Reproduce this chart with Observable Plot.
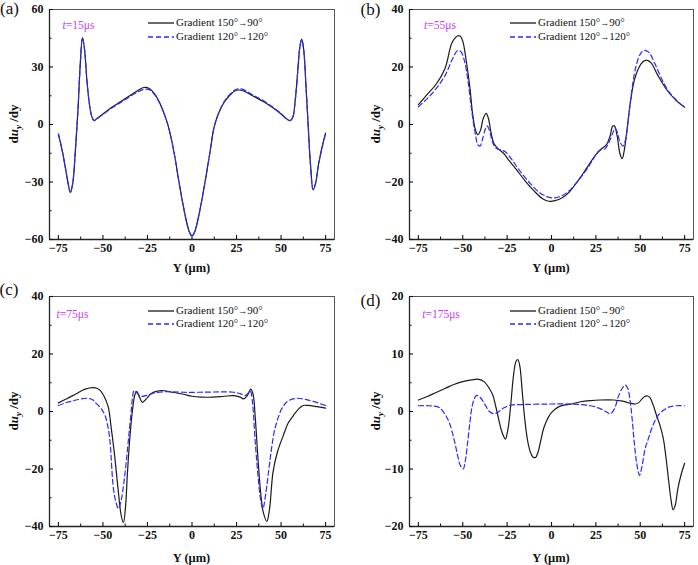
<!DOCTYPE html>
<html><head><meta charset="utf-8">
<script src="https://cdn.jsdelivr.net/npm/d3@7"></script>
<script src="https://cdn.jsdelivr.net/npm/@observablehq/plot@0.6"></script>
<style>
body{margin:0;background:#fff;}
#root{position:relative;width:698px;height:565px;font-family:"Liberation Serif","Times New Roman",serif;color:#111;overflow:hidden;}
.panel{position:absolute;}
.panel svg{display:block;}
.ov{position:absolute;white-space:nowrap;line-height:1;}
.c{transform:translate(-50%,-50%);}
.arr{font-size:0.82em;}
</style></head><body><div id="root"></div>
<script>
// ---------- shared ticks ----------
const xTicks = [-75, -50, -25, 0, 25, 50, 75];
const xMinor = [-62.5, -37.5, -12.5, 12.5, 37.5, 62.5];
const legendLabels = ["Gradient 150°→90°", "Gradient 120°→120°"];

// ---------- panel (a) t=15us ----------
const aYTicks = [-60, -30, 0, 30, 60];
const aYMinor = [-45, -15, 15, 45];
const aX1 = [-75,-73,-71,-69.5,-68.3,-67,-65.5,-64,-62.7,-61.5,-60.3,-59,-57.5,-56.2,-55,-53.5,-50,-45,-40,-35,-30,-27,-24,-21,-18,-15,-13,-10,-7.5,-5,-3,-1.5,0,1.5,3,5,7.5,10,12.5,15,18,21,24,26,29,32,35,40,45,50,53,55,56.5,58,59.3,60.5,61.6,62.7,64,65.3,66.6,68,69.3,71,73,75];
const aY1 = [-5,-13,-23,-31,-35.4,-31,-14,8,32,45.4,39,23,10,4,2,3,5.5,9,12,15,18,19.3,18.8,16,11,4,-2,-15,-29,-42,-51,-56,-58,-56,-51,-42,-29,-15,-1,6,11.5,15,17.5,18,17.5,16,14.5,12,9,5.5,3,2,3.5,13,27,40,44.5,39,20,-2,-22,-34,-31,-21,-12,-4.5];
const aX2 = aX1;
const aY2 = [-5,-13,-23,-31,-35.4,-31,-14,8,32,45.2,39,23,10,4,2,3,5.3,8.6,11.5,14.5,17.2,18.3,18.2,15.6,11,4,-2,-15,-29,-42,-51,-56,-58.3,-56,-51,-42,-29,-15,-1,6,11.8,15.5,18,18.6,18.2,16.6,15,12.5,9.3,5.7,3,2,3.5,13,27,40,44.3,39,20,-2,-22,-34,-31,-21,-12,-4.5];

// ---------- panel (b) t=55us ----------
const bYTicks = [-40, -20, 0, 20, 40];
const bYMinor = [-30, -10, 10, 30];
const bX1 = [-75,-70,-65,-60,-56,-53,-51.5,-50,-48,-46,-44.5,-43,-41.5,-40,-38.5,-36.8,-35.5,-34,-32.5,-30,-27,-24,-20,-15,-10,-5,-1.5,2,6,10,15,20,25,28,31,33,34.5,35.5,37,38.5,39.8,41,42.5,44.5,46.5,49,51.5,53.5,56,60,65,70,75];
const bY1 = [6.9,10.5,14,19.5,28.5,30.8,30.8,29,22,13,4,-1.5,-3.6,-2,2,3.9,2,-3,-6.5,-8.5,-10,-12.5,-15.5,-19.5,-23,-25.8,-26.7,-26.5,-25.5,-23.5,-19.5,-15,-10.5,-8.5,-7,-4,-0.5,-0.5,-4,-10,-11.9,-9,-2,8,15,19.5,21.8,22.4,21.5,17,12,8.5,6];
const bX2 = [-75,-70,-65,-60,-56,-53,-51,-49,-47,-45,-43,-41.5,-40.3,-39,-37.5,-36.3,-35,-33.5,-31.5,-28.5,-26,-22,-18,-12,-6,0,5,10,15,20,24,27,30,32.5,34.5,35.8,37,38.5,40.3,41.8,43.5,45.5,47.5,50,52.3,55,58,62,66,70,75];
const bY2 = [6.2,9,12.5,17,22.5,25.7,25.3,22,15,5,-3,-7,-7.5,-5.5,-2,-0.5,-2,-5.5,-8.2,-8.8,-9.5,-12.5,-16,-20.5,-24,-25.5,-25,-23,-19.5,-15.5,-11.5,-9,-8.5,-6,-3,-1.3,-2.5,-6,-7.5,-5,3,13,20,24.5,25.8,25,21.5,16,11.5,8.7,6];

// ---------- panel (c) t=75us ----------
const cYTicks = [-40, -20, 0, 20, 40];
const cYMinor = [-30, -10, 10, 30];
const cX1 = [-75,-70,-65,-60,-55,-52,-49.3,-47,-45.5,-43.5,-41.5,-39.8,-38.5,-37.3,-36.3,-35,-33.5,-32,-31,-29.5,-27.8,-25.5,-23,-20,-16.7,-12,-5,0,5,12,18,23.4,27,29,31,33,34.3,35.5,37,38.5,40,42,43.5,45.5,48,51.3,54,56.9,60,62.5,65,70,75];
const cY1 = [3,4.5,6.2,7.8,8.3,7.6,5.2,1.5,-5,-15,-27,-36,-38.7,-33,-22,-10,0,6,7,5,3.2,4.5,6.2,7,7.3,6.8,6,5.3,5,5,5.3,5.5,5,4.4,5.5,7.8,6,-2,-16,-28,-35,-38.2,-34,-21,-14,-8.3,-4,-1.4,1,2.1,2.1,1.7,1.2];
const cX2 = [-75,-70,-65,-59.5,-56,-54.4,-51,-48.8,-47,-46,-44.1,-42.5,-41.3,-39.8,-38.2,-36.5,-35.3,-34,-33.4,-32.5,-31,-28.7,-25,-21.3,-13.9,-5,4.8,15,23.4,28,30,31.5,32.7,33.8,35.5,37.3,38.6,39.8,41.3,43.9,46,47.6,50,52.3,55,58.8,63,68,75];
const cY2 = [2.1,3.2,4,4.6,4.2,3.2,1,-1.4,-6,-10.6,-26.9,-32,-33.8,-31,-24.5,-15,-7.2,1,5,7.3,6.5,5.3,5.7,6.5,6.9,6.7,6.7,6.8,6.7,6,5.6,6.4,7.2,4,-10.6,-24,-31,-33.8,-29,-16.4,-7.5,-3.7,0.5,2.7,4,4.6,4.3,3.5,2.1];

// ---------- panel (d) t=175us ----------
const dYTicks = [-20, -10, 0, 10, 20];
const dYMinor = [-15, -5, 5, 15];
const dX1 = [-75,-70,-65,-60,-55,-50,-45,-41,-38,-35,-33,-31.5,-30,-28.5,-27,-26,-24.5,-23,-21.5,-20,-18.9,-17.8,-16.5,-15,-13.5,-12,-10.5,-9,-7.5,-6,-4.5,-3,-1.6,0,2,4,7,11,16.4,22,27.5,35,40,42.5,45,47.1,49,51,52.5,54.2,55.5,57.2,59.2,61.2,63,64.5,66.1,67.4,68.5,69.7,71.2,73,75];
const dY1 = [2,2.6,3.3,4,4.7,5.2,5.5,5.6,5.2,4,2.8,1,-1,-3,-4.3,-4.8,-3,1,6,8.7,9,7.8,3.5,-1.5,-5,-7,-7.9,-8,-7,-5,-3,-1.8,-0.9,-0.2,0.4,0.8,1.1,1.3,1.7,1.9,2,2,1.8,1.6,1.4,1.3,1.5,2.2,2.6,2.7,2.4,1.2,-0.7,-2.5,-4.7,-8,-12.3,-15.5,-17.1,-16.3,-13.4,-11,-9];
const dX2 = [-75,-69,-63.3,-60,-57.5,-55,-53,-51.6,-49.8,-48.5,-47.3,-46,-44.8,-43.4,-42.1,-40,-37.5,-35,-32.5,-30,-27,-23,-17,-2,10,16.4,22,27.5,31,33.2,35.5,37.9,39.8,41.6,43,44.4,45.5,46.6,48,49.6,51,52.7,54.5,56.4,58.5,60.8,63.5,66.4,70,75];
const dY2 = [1,1,0.7,-0.5,-2,-4.7,-7.5,-9.2,-10,-8.5,-5.5,-2,0.8,2.3,2.8,2.4,1.2,0,-0.4,-0.1,0.6,1.1,1.2,1.3,1.3,1.2,1,0.5,-0.1,-0.4,0.5,2.8,4,4.6,4,1.6,-1.5,-5.3,-9,-11.1,-9.5,-6.5,-4.8,-3,-1.5,-0.4,0.3,0.8,1,1];

const BLACK = "#1a1a1a", BLUE = "#2a2aff", MAGENTA = "#c23ef0";

const panels = [
  {lab:"(a)", t:"15", left:0, top:0, w:349, h:282, m:[9,15,43,49], yd:[-60,60], yt:aYTicks, ym:aYMinor,
   s1:[aX1,aY1], s2:[aX2,aY2], labPos:[9.5,8], tPos:[78.5,25.5], legX:148, legY:[23.3,36.5], ytX:15, xtY:268},
  {lab:"(b)", t:"55", left:349, top:0, w:349, h:282, m:[9,5,43,60], yd:[-40,40], yt:bYTicks, ym:bYMinor,
   s1:[bX1,bY1], s2:[bX2,bY2], labPos:[21.5,9], tPos:[91,25.5], legX:161, legY:[23.3,36.5], ytX:28, xtY:268},
  {lab:"(c)", t:"75", left:0, top:282, w:349, h:283, m:[14,15,39,49], yd:[-40,40], yt:cYTicks, ym:cYMinor,
   s1:[cX1,cY1], s2:[cX2,cY2], labPos:[9,7], tPos:[72.5,33], legX:148, legY:[28.5,41.7], ytX:15, xtY:276},
  {lab:"(d)", t:"175", left:349, top:282, w:349, h:283, m:[14,5,39,60], yd:[-20,20], yt:dYTicks, ym:dYMinor,
   s1:[dX1,dY1], s2:[dX2,dY2], labPos:[21.5,18], tPos:[92,33], legX:161, legY:[28.5,41.7], ytX:28, xtY:276}
];

const fmt = d => d < 0 ? "\u2212" + Math.abs(d) : String(d);
const root = document.getElementById("root");

function ov(parent, html, x, y, style, center = true) {
  const el = document.createElement("div");
  el.className = "ov" + (center ? " c" : "");
  el.innerHTML = html;
  el.style.left = x + "px";
  el.style.top = y + "px";
  Object.assign(el.style, style);
  parent.appendChild(el);
  return el;
}

for (const p of panels) {
  const div = document.createElement("div");
  div.className = "panel";
  div.style.left = p.left + "px";
  div.style.top = p.top + "px";
  div.style.width = p.w + "px";
  div.style.height = p.h + "px";
  root.appendChild(div);

  const [mt, mr, mb, ml] = p.m;
  const chart = Plot.plot({
    width: p.w, height: p.h,
    marginTop: mt, marginRight: mr, marginBottom: mb, marginLeft: ml,
    x: {domain: [-80, 80]},
    y: {domain: p.yd},
    style: {fontFamily: "'Liberation Serif', 'Times New Roman', serif", fontSize: "12px", fontWeight: "bold", color: "#111", background: "transparent", overflow: "visible"},
    marks: [
      Plot.frame({stroke: "#444", strokeWidth: 0.9}),
      Plot.ruleX([-80], {stroke: "#222", strokeWidth: 1.3}),
      Plot.ruleY([p.yd[0]], {stroke: "#222", strokeWidth: 1.3}),
      Plot.axisX({ticks: xTicks, tickSize: -4, text: null, label: null, strokeWidth: 1.1}),
      Plot.axisX({ticks: xMinor, tickSize: -2.5, text: null, label: null}),
      Plot.axisX({ticks: xTicks, tickSize: 0, tickPadding: 4, tickFormat: fmt, label: null}),
      Plot.axisY({ticks: p.yt, tickSize: -4, text: null, label: null, strokeWidth: 1.1}),
      Plot.axisY({ticks: p.ym, tickSize: -2.5, text: null, label: null}),
      Plot.axisY({ticks: p.yt, tickSize: 0, tickPadding: 6, tickFormat: fmt, label: null}),
      Plot.line({length: p.s1[0].length}, {x: p.s1[0], y: p.s1[1], stroke: BLACK, strokeWidth: 1.2, curve: "catmull-rom"}),
      Plot.line({length: p.s2[0].length}, {x: p.s2[0], y: p.s2[1], stroke: BLUE, strokeWidth: 1.2, strokeDasharray: "5,3", curve: "catmull-rom"})
    ]
  });
  div.appendChild(chart);

  // panel label
  ov(div, p.lab, p.labPos[0], p.labPos[1], {fontSize: "17px"});
  // time label
  ov(div, `<i>t</i>=${p.t}\u03bcs`, p.tPos[0], p.tPos[1], {fontSize: "11.5px", color: MAGENTA});
  // legend
  const styles = [{stroke: BLACK, dash: null}, {stroke: BLUE, dash: "5,3"}];
  legendLabels.forEach((txt, i) => {
    const y = p.legY[i];
    const s = styles[i];
    ov(div, `<svg width="26" height="4" style="display:block"><line x1="0" x2="26" y1="2" y2="2" stroke="${s.stroke}" stroke-width="1.3" ${s.dash ? `stroke-dasharray="${s.dash}"` : ""}/></svg>`,
       p.legX, y - 2, {}, false);
    const html = txt.replace("→", "<span class='arr'>→</span>");
    ov(div, html, p.legX + 28, y, {fontSize: "11px", transform: "translate(0,-50%)"}, false);
  });
  // axis titles
  const plotMidY = (mt + (p.h - mb)) / 2;
  const plotMidX = (ml + (p.w - mr)) / 2;
  ov(div, "Y (\u03bcm)", plotMidX, p.xtY, {fontSize: "12.5px", fontWeight: "bold"});
  ov(div, "d<i>u</i><sub style='font-size:0.7em;vertical-align:-0.25em'><i>y</i></sub> /dy", p.ytX, plotMidY,
     {fontSize: "13px", fontWeight: "bold", transform: "translate(-50%,-50%) rotate(-90deg)"});
}
</script></body></html>
